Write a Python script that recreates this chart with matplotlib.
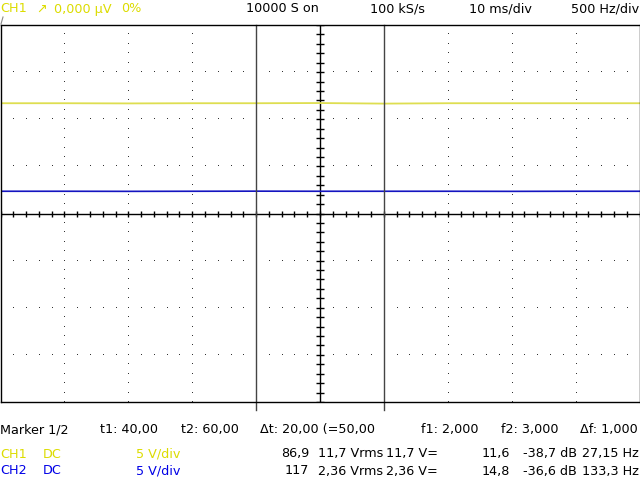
import numpy as np
import matplotlib.pyplot as plt

# scope settings (10 ms/div, 5 V/div, 10 x 8 divisions)
time_ms = [0, 10, 20, 30, 40, 50, 60, 70, 80, 90, 100]
ch1_volts = [11.7, 11.7, 11.68, 11.7, 11.7, 11.72, 11.66, 11.7, 11.7, 11.7, 11.7]
ch2_volts = [2.36, 2.36, 2.35, 2.36, 2.37, 2.36, 2.36, 2.36, 2.35, 2.36, 2.36]
marker_t = [40, 60]

top_labels = [("CH1", 0), ("↗", 36), ("0,000 µV", 54), ("0%", 121),
              ("10000 S on", 246), ("100 kS/s", 370), ("10 ms/div", 469), ("500 Hz/div", 571)]
marker_labels = [("Marker 1/2", 0), ("t1: 40,00", 100), ("t2: 60,00", 181),
                 ("Δt: 20,00 (=50,00", 260), ("f1: 2,000", 421), ("f2: 3,000", 501),
                 ("Δf: 1,000", 580)]
ch_names = ["CH1", "CH2"]
ch_coupling = ["DC", "DC"]
ch_scale = ["5 V/div", "5 V/div"]
ch_stats = [["86,9", "11,7 Vrms", "11,7 V=", "11,6", "-38,7 dB", "27,15 Hz"],
            ["117", "2,36 Vrms", "2,36 V=", "14,8", "-36,6 dB", "133,3 Hz"]]
stat_right = [309, 383, 438, 510, 577, 639]

YEL_TXT = "#dcdc00"
BLU_TXT = "#0000e6"
YEL_TRACE = "#dede50"
BLU_TRACE = "#1414c0"

W, H = 640, 480
fig = plt.figure(figsize=(6.4, 4.8), dpi=100)
ax = fig.add_axes([0.5 / W, (480 - 402) / H, 639 / W, 377 / H])
ax.set_xlim(0, 100)
ax.set_ylim(-20, 20)
ax.set_xticks([])
ax.set_yticks([])
for s in ax.spines.values():
    s.set_linewidth(1.0)
    s.set_color("black")

# dotted grid
xdiv = np.arange(0, 100.01, 2)
ydiv = np.arange(-20, 20.01, 1)
for gx in [10, 20, 30, 40, 60, 70, 80, 90]:
    ax.plot([gx] * len(ydiv), ydiv, ",", color="#333333")
for gy in [-15, -10, -5, 5, 10, 15]:
    ax.plot(xdiv, [gy] * len(xdiv), ",", color="#333333")

# centre axes with ticks
ax.axhline(0, color="black", lw=1)
ax.axvline(50, color="black", lw=1)
ax.plot(xdiv, [0] * len(xdiv), "|", color="black", ms=4.5, mew=1)
ax.plot([50] * len(ydiv), ydiv, "_", color="black", ms=6, mew=1)

# traces
ax.plot(time_ms, ch1_volts, color=YEL_TRACE, lw=1.3)
ax.plot(time_ms, ch2_volts, color=BLU_TRACE, lw=1.2)

# markers
for t in marker_t:
    ax.axvline(t, ymin=-0.021, ymax=1, color="#444444", lw=1, clip_on=False)


def put(text, x, y, color="black", ha="left"):
    fig.text(x / W, 1 - y / H, text, color=color, ha=ha, va="center",
             fontsize=9.2, family="DejaVu Sans")


for i, (txt, x) in enumerate(top_labels):
    put(txt, x, 9, YEL_TXT if i < 4 else "black")
fig.lines.append(plt.Line2D([1 / W, 3 / W], [1 - 24 / H, 1 - 17 / H],
                            transform=fig.transFigure, color="#888888", lw=0.8))

for txt, x in marker_labels:
    put(txt, x, 430)

for i, col in enumerate([YEL_TXT, BLU_TXT]):
    y = 454 + i * 17
    put(ch_names[i], 0, y, col)
    put(ch_coupling[i], 43, y, col)
    put(ch_scale[i], 136, y, col)
    for txt, xr in zip(ch_stats[i], stat_right):
        put(txt, xr, y, ha="right")

fig.savefig("out.png", dpi=100)
